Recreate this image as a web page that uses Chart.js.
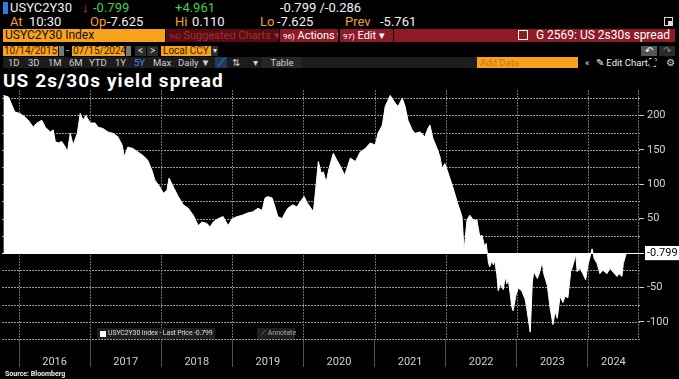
<!DOCTYPE html>
<html><head><meta charset="utf-8">
<script src="https://cdn.jsdelivr.net/npm/chart.js@4.4.1/dist/chart.umd.min.js"></script>
<style>
html,body{margin:0;padding:0;background:#000;width:679px;height:379px;overflow:hidden;font-family:Roboto,'Liberation Sans',sans-serif;}
.a{position:absolute;white-space:nowrap;line-height:1;}
.w{color:#f2f2f2}.o{color:#f0a030}.g{color:#3fd24a}
.r1{top:1px;font-size:13px}.r2{top:15px;font-size:13px}
.box{position:absolute;line-height:13px;height:13px;top:29px;font-size:11px;white-space:nowrap;overflow:hidden;box-sizing:border-box;}
.b4{position:absolute;top:46px;height:10px;line-height:10px;font-size:10px;white-space:nowrap;}
.b5{position:absolute;top:57px;height:11px;line-height:11px;font-size:9.5px;color:#cfcfcf;white-space:nowrap;}
</style></head><body>
<!-- row 1 -->
<div class="a" style="left:3px;top:2px;width:5px;height:12px;background:#2a7de1"></div>
<div class="a w r1" style="left:10px">USYC2Y30</div>
<div class="a r1" style="left:82px;color:#e8323c">↓</div>
<div class="a g r1" style="left:93px">-0.799</div>
<div class="a g r1" style="left:175px">+4.961</div>
<div class="a w r1" style="left:280px">-0.799 /-0.286</div>
<!-- row 2 -->
<div class="a o r2" style="left:10px">At</div><div class="a w r2" style="left:29px">10:30</div>
<div class="a o r2" style="left:90px">Op</div><div class="a w r2" style="left:107px">-7.625</div>
<div class="a o r2" style="left:175px">Hi</div><div class="a w r2" style="left:192px">0.110</div>
<div class="a o r2" style="left:260px">Lo</div><div class="a w r2" style="left:277px">-7.625</div>
<div class="a o r2" style="left:345px">Prev</div><div class="a w r2" style="left:380px">-5.761</div>
<div class="a" style="left:664px;top:17px;width:7px;height:7px;border:1px solid #ddd"></div>
<div class="a" style="left:668px;top:21px;width:5px;height:5px;background:#ddd"></div>
<!-- row 3 -->
<div class="box" style="left:3px;width:162px;background:#f7a21b;color:#111;padding-left:2px;font-size:12px">USYC2Y30 Index</div>
<div class="box" style="left:166px;width:113px;background:#5a0b12;color:#a0303c;padding-left:3px"><span style="font-size:8px">94)</span> Suggested Charts ▾</div>
<div class="box" style="left:280px;width:58px;background:#8d1a24;color:#fff;padding-left:3px"><span style="font-size:8px">96)</span> Actions ▾</div>
<div class="box" style="left:340px;width:53px;background:#8d1a24;color:#fff;padding-left:3px"><span style="font-size:8px">97)</span> Edit ▾</div>
<div class="box" style="left:394px;width:281px;background:#8d1a24;color:#fff;text-align:right;padding-right:5px;font-size:12px">
<span style="display:inline-block;width:8px;height:8px;border:1px solid #fff;margin-right:8px;vertical-align:-1px"></span>G 2569: US 2s30s spread</div>
<!-- row 4 -->
<div class="b4" style="left:3px;width:54px;background:#f7a21b;color:#3a2000;padding-left:1px">10/14/2015</div>
<div class="b4" style="left:59px;width:5px;background:#777"></div>
<div class="b4" style="left:66px;color:#ccc">-</div>
<div class="b4" style="left:72px;width:52px;background:#f7a21b;color:#3a2000;padding-left:1px">07/15/2024</div>
<div class="b4" style="left:126px;width:5px;background:#777"></div>
<div class="b4" style="left:135px;width:11px;background:#2e2e2e;color:#ddd;text-align:center">&lt;</div>
<div class="b4" style="left:147px;width:11px;background:#2e2e2e;color:#ddd;text-align:center">&gt;</div>
<div class="b4" style="left:161px;width:48px;background:#f7a21b;color:#3a2000;padding-left:2px">Local CCY</div>
<div class="b4" style="left:211px;width:7px;background:#2e2e2e;color:#ddd;text-align:center;font-size:8px">▾</div>
<div class="b4" style="left:641px;width:16px;background:#555;color:#fff;text-align:center">↶</div>
<div class="b4" style="left:659px;width:16px;background:#2a2a2a;color:#888;text-align:center">↷</div>
<!-- row 5 -->
<div class="b5" style="left:3px;width:474px;background:#1c1c1c"></div>
<div class="b5" style="left:8px">1D</div><div class="b5" style="left:28px">3D</div><div class="b5" style="left:48px">1M</div>
<div class="b5" style="left:69px">6M</div><div class="b5" style="left:89px">YTD</div><div class="b5" style="left:115px">1Y</div>
<div class="b5" style="left:134px;color:#3d8ef5">5Y</div><div class="b5" style="left:153px">Max</div>
<div class="b5" style="left:178px">Daily ▼</div>
<div class="b5" style="left:215px;width:12px;background:#203a5a;color:#4a9af5;text-align:center">⟋</div>
<div class="b5" style="left:232px">⇅</div><div class="b5" style="left:253px">▾</div>
<div class="b5" style="left:262px;width:40px;background:#262626;text-align:center">Table</div>
<div class="b5" style="left:477px;width:101px;background:#f7a21b;color:#c77a10;padding-left:3px;box-sizing:border-box">Add Data</div>
<div class="b5" style="left:585px;color:#ddd">«</div>
<div class="b5" style="left:596px;color:#eee">✎ Edit Chart</div>
<div class="b5" style="left:649px;color:#ddd">⛶</div>
<div class="b5" style="left:666px;color:#ddd">⚙</div>
<!-- title -->
<div class="a" style="left:3px;top:71px;font-size:19px;font-weight:bold;color:#fff;letter-spacing:1.1px">US 2s/30s yield spread</div>
<!-- chart -->
<div style="position:absolute;left:0;top:88px;width:679px;height:284px"><canvas id="c" width="679" height="284"></canvas></div>
<!-- legend -->
<div class="a" style="left:97px;top:328px;width:118px;height:11px;background:#1e1e1e"></div>
<div class="a" style="left:100px;top:331px;width:6px;height:6px;background:#fff"></div>
<div class="a" style="left:108px;top:330px;font-size:7px;color:#ddd;letter-spacing:-0.15px">USYC2Y30 Index - Last Price -0.799</div>
<div class="a" style="left:257px;top:328px;width:38px;height:11px;background:#1e1e1e"></div>
<div class="a" style="left:261px;top:330px;font-size:7px;color:#aaa">⟋ Annotate</div>
<div class="a" style="left:5px;top:371px;font-size:7px;font-weight:bold;color:#eee">Source: Bloomberg</div>
<script>
const years = [2015.78,2015.85,2015.90,2015.94,2016.01,2016.08,2016.13,2016.20,2016.25,2016.32,2016.37,2016.44,2016.48,2016.51,2016.55,2016.60,2016.65,2016.68,2016.72,2016.76,2016.82,2016.86,2016.90,2016.94,
2017.00,2017.07,2017.11,2017.18,2017.25,2017.32,2017.39,2017.45,2017.48,2017.53,2017.60,2017.67,2017.74,2017.81,2017.87,2017.91,2017.98,
2018.03,2018.08,2018.11,2018.17,2018.24,2018.31,2018.38,2018.45,2018.52,2018.57,2018.64,2018.69,2018.73,2018.80,2018.87,2018.94,
2019.00,2019.07,2019.14,2019.21,2019.29,2019.36,2019.42,2019.46,2019.50,2019.56,2019.60,2019.64,2019.70,2019.74,2019.78,2019.85,2019.91,2019.95,
2020.01,2020.06,2020.14,2020.18,2020.21,2020.25,2020.28,2020.32,2020.36,2020.42,2020.47,2020.51,2020.58,2020.66,2020.73,2020.80,2020.87,2020.94,
2021.01,2021.05,2021.11,2021.15,2021.22,2021.29,2021.33,2021.39,2021.43,2021.47,2021.53,2021.57,2021.64,2021.71,2021.75,2021.78,2021.82,2021.88,2021.92,2021.95,2021.99,
2022.03,2022.10,2022.17,2022.23,2022.26,2022.30,2022.34,2022.39,2022.44,2022.48,2022.51,2022.55,2022.57,2022.59,2022.60,2022.62,2022.65,2022.67,2022.69,2022.72,2022.74,2022.77,2022.81,2022.84,2022.86,2022.88,2022.91,2022.93,2022.95,2022.99,
2023.02,2023.07,2023.12,2023.14,2023.19,2023.22,2023.24,2023.29,2023.31,2023.36,2023.38,2023.43,2023.47,2023.51,2023.54,2023.57,2023.61,2023.65,2023.68,2023.72,2023.76,2023.79,2023.83,2023.85,2023.89,2023.93,2023.97,
2024.00,2024.06,2024.09,2024.13,2024.17,2024.21,2024.27,2024.31,2024.35,2024.41,2024.44,2024.48,2024.50,2024.54];
const spread = [229,227,215,205,203,198,193,183,189,193,183,176,179,162,160,162,154,147,174,157,174,203,193,200,
189,189,183,181,176,174,169,157,140,154,152,147,142,135,120,106,96,
87,91,109,96,82,70,65,55,40,45,43,38,45,50,53,40,
50,53,55,58,60,65,62,80,82,80,67,53,50,58,65,70,67,74,
82,72,60,101,133,116,118,103,123,145,135,128,113,138,133,147,152,160,
157,174,186,213,229,218,213,225,213,193,179,174,176,169,181,186,167,152,140,123,130,
118,96,72,53,4,48,55,48,48,24,26,9,14,-2,-13,-20,-11,-17,-11,-31,-55,-45,-53,-34,-45,-37,-61,-78,-84,-61,
-51,-55,-68,-80,-115,-42,-27,-37,-32,-13,-30,-47,-80,-104,-85,-95,-63,-72,-63,-65,-27,-18,-2,-27,-22,-30,-39,
-18,6,-8,-15,-30,-25,-30,-22,-27,-34,-30,-34,-15,-0.799];
const yTickValues = [-125,-100,-75,-50,-25,0,25,50,75,100,125,150,175,200,225];
const yLabelValues = [-100,-50,50,100,150,200];
const yearStarts = [2016,2017,2018,2019,2020,2021,2022,2023,2024];
const yearLabels = ['2016','2017','2018','2019','2020','2021','2022','2023','2024'];
const yearLabelPos = [2016.5,2017.5,2018.5,2019.5,2020.5,2021.5,2022.5,2023.5,2024.36];
const lastPrice = -0.799;
const xMin = 2015.76, xMax = 2024.72;
const T = 'rgba(0,0,0,0)';

// dotted grid drawn from the chart's own scales
const dottedGrid = {
  id: 'dottedGrid',
  beforeDatasetsDraw(chart) {
    const { ctx, chartArea: a, scales: { x, y } } = chart;
    ctx.save();
    ctx.fillStyle = '#9c9c9c';
    yTickValues.forEach(v => {
      if (v === 0) return;
      const py = Math.round(y.getPixelForValue(v));
      for (let px = Math.ceil(a.left); px < a.right; px += 3) ctx.fillRect(px, py, 2, 1);
    });
    ctx.fillStyle = '#707070';
    [...yearStarts, xMax].forEach(v => {
      const px = Math.min(Math.round(x.getPixelForValue(v)), Math.floor(a.right) - 1);
      for (let py = Math.ceil(a.top); py < a.bottom; py += 3) ctx.fillRect(px, py, 1, 2);
    });
    ctx.fillStyle = '#fff';
    ctx.fillRect(a.left, Math.round(y.getPixelForValue(0)), a.right - a.left, 1);
    ctx.restore();
  }
};

new Chart(document.getElementById('c'), {
  type: 'line',
  data: { datasets: [{
    data: years.map((t, i) => ({ x: t, y: spread[i] })),
    borderColor: '#fff', borderWidth: 1, backgroundColor: '#fff',
    fill: 'origin', pointRadius: 0, tension: 0
  }]},
  plugins: [dottedGrid],
  options: {
    responsive: false, animation: false,
    layout: { padding: { left: 2, top: 2, right: 0, bottom: 0 } },
    plugins: { legend: { display: false }, tooltip: { enabled: false } },
    scales: {
      x: {
        type: 'linear', min: xMin, max: xMax,
        afterBuildTicks: s => {
          s.ticks = [...yearStarts, ...yearLabelPos].sort((a, b) => a - b).map(v => ({ value: v }));
        },
        afterFit: s => { s.height = 33; s.paddingLeft = 0; s.paddingRight = 0; },
        border: { display: false },
        grid: {
          drawOnChartArea: false,
          tickColor: c => (c.tick && yearStarts.includes(c.tick.value)) ? '#505050' : T,
          tickLength: 28, lineWidth: 1
        },
        ticks: {
          autoSkip: false, maxRotation: 0, color: '#d2d2d2', padding: -11,
          font: { family: 'Roboto', size: 11 },
          callback: v => { const i = yearLabelPos.indexOf(v); return i >= 0 ? yearLabels[i] : ''; }
        }
      },
      y: {
        position: 'right', min: -125, max: 237,
        afterBuildTicks: s => {
          s.ticks = [...yLabelValues, lastPrice].sort((a, b) => a - b).map(v => ({ value: v }));
        },
        afterFit: s => { s.width = 40; s.paddingTop = 0; s.paddingBottom = 0; },
        border: { display: false },
        grid: {
          drawOnChartArea: false,
          tickColor: c => (c.tick && c.tick.value === lastPrice) ? '#fff' : '#cfcfcf',
          tickLength: 5, lineWidth: 1
        },
        ticks: {
          autoSkip: false, padding: 3,
          color: c => (c.tick && c.tick.value === lastPrice) ? '#000' : '#d2d2d2',
          font: { family: 'Roboto', size: 11 },
          showLabelBackdrop: c => !!(c.tick && c.tick.value === lastPrice),
          backdropColor: '#fff',
          backdropPadding: { top: 1, bottom: 0, left: 2, right: 2 },
          callback: v => v === lastPrice ? lastPrice.toFixed(3) : String(v)
        }
      }
    }
  }
});
</script>
</body></html>
